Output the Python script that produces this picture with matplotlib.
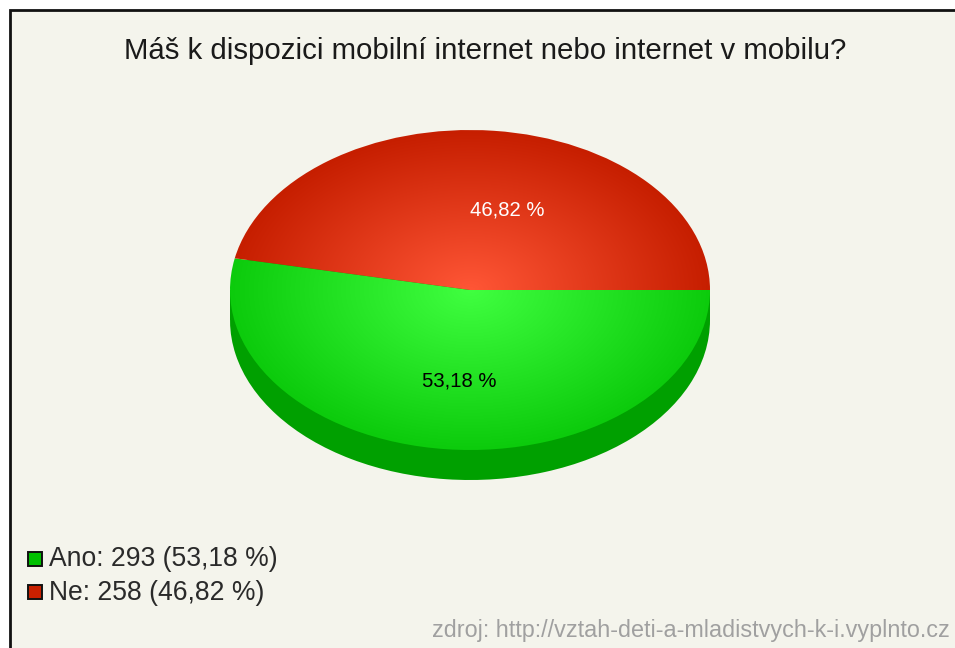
import numpy as np
import matplotlib
matplotlib.use("Agg")
import matplotlib.pyplot as plt
from matplotlib.colors import LinearSegmentedColormap
from matplotlib.patches import Rectangle

plt.rcParams['font.family'] = ['Liberation Sans', 'DejaVu Sans']

title = "Máš k dispozici mobilní internet nebo internet v mobilu?"
categories = ["Ano", "Ne"]
counts = [293, 258]
percents = ["53,18 %", "46,82 %"]
source = "zdroj: http://vztah-deti-a-mladistvych-k-i.vyplnto.cz"

W, H = 955, 648
cx, cy, rx, ry, depth = 470, 290, 240, 160, 30

fig = plt.figure(figsize=(W / 100, H / 100), dpi=100, facecolor="white")

# whole picture in pixel coords
ax = fig.add_axes([0, 0, 1, 1])
ax.set_xlim(0, W)
ax.set_ylim(H, 0)
ax.axis("off")
ax.add_patch(Rectangle((10, 10), W, H, facecolor="#f4f4ec", edgecolor="#111111", lw=2))


def pie_axes(y_center, z):
    a = fig.add_axes([(cx - rx) / W, 1 - (y_center + ry) / H, 2 * rx / W, 2 * ry / H], zorder=z)
    a.axis("off")
    a.patch.set_alpha(0)
    return a


def fix_limits(a):
    # pie() forces equal aspect, undo it so the circle turns to an ellipse
    a.set_xlim(-1, 1)
    a.set_ylim(-1, 1)
    a.set_aspect("auto")


# side of the pie, only green shows
side = pie_axes(cy + depth, 1)
side.pie(counts, startangle=0, counterclock=False, colors=["#00a000", "#00a000"], radius=1)
fix_limits(side)
ax.add_patch(Rectangle((cx - rx, cy), 2 * rx, depth, facecolor="#00a000", edgecolor="none"))

top = pie_axes(cy, 2)
wedges, _ = top.pie(counts, startangle=0, counterclock=False, colors=["none", "none"], radius=1)
fix_limits(top)

cmaps = [
    LinearSegmentedColormap.from_list("g", ["#40ff40", "#0ccb0c"]),
    LinearSegmentedColormap.from_list("r", ["#ff5636", "#c61e00"]),
]
xx, yy = np.meshgrid(np.linspace(-1, 1, 960), np.linspace(-1, 1, 640))
rr = np.clip(np.hypot(xx, yy), 0, 1)
for w, cm in zip(wedges, cmaps):
    im = top.imshow(rr, cmap=cm, vmin=0, vmax=1, extent=(-1, 1, -1, 1), aspect="auto",
                    origin="lower", interpolation="bilinear")
    im.set_clip_path(w)
fix_limits(top)

# texts on top of everything
txt = fig.add_axes([0, 0, 1, 1], zorder=3)
txt.set_xlim(0, W)
txt.set_ylim(H, 0)
txt.axis("off")
txt.patch.set_alpha(0)

txt.text(485.5, 51, title, ha="center", va="center", fontsize=21.15, color="#1a1a1a")
txt.text(459, 381, percents[0], ha="center", va="center", fontsize=14.6, color="black")
txt.text(507, 210, percents[1], ha="center", va="center", fontsize=14.6, color="white")

legend_colors = ["#00c000", "#c82000"]
legend_y = [558.5, 591.5]
for i in range(len(categories)):
    txt.add_patch(Rectangle((28, legend_y[i] - 7), 14, 14, facecolor=legend_colors[i],
                            edgecolor="#111111", lw=1.4))
    txt.text(49, legend_y[i] + 1, "%s: %d (%s)" % (categories[i], counts[i], percents[i]),
             ha="left", va="center", fontsize=19.1, color="#2a2a2a")

txt.text(950, 631, source, ha="right", va="center", fontsize=16.8, color="#a0a0a0")

fig.savefig("out.png", dpi=100)
